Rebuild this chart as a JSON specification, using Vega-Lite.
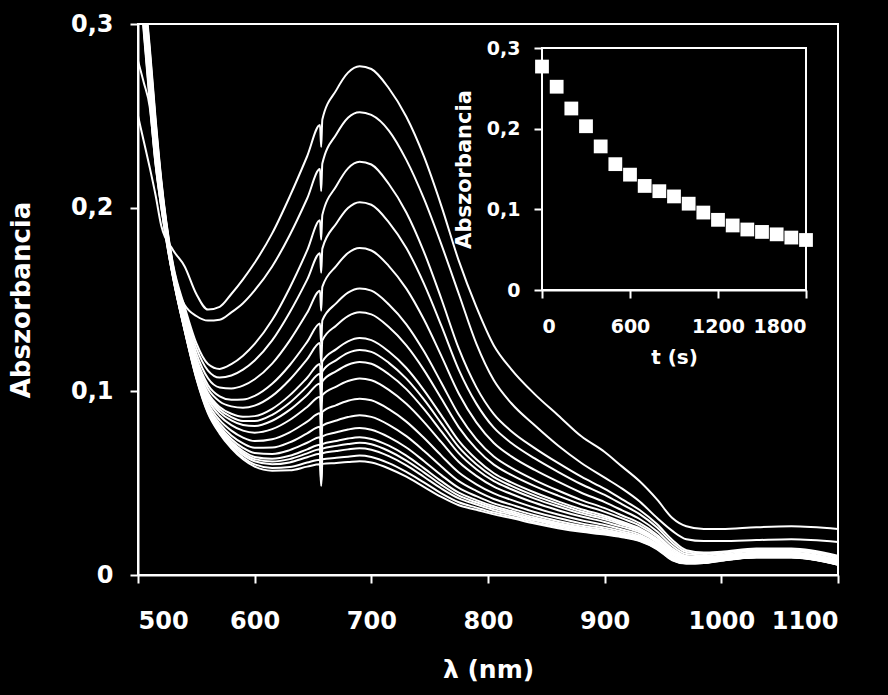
{
"$schema":"https://vega.github.io/schema/vega-lite/v6.json",
"width":700,"height":551,
"autosize":{"type":"none"},
"padding":{"left":138,"top":24,"right":50,"bottom":120},
"background":"black",
"config":{"view":{"stroke":"white","strokeWidth":2},"font":"DejaVu Sans",
"axis":{"grid":false,"domainColor":"white","domainWidth":2,"tickColor":"white","tickWidth":2,"tickSize":8,"labelColor":"white","titleColor":"white","labelFont":"DejaVu Sans","titleFont":"DejaVu Sans","labelFontWeight":"bold","titleFontWeight":"bold"}},
"datasets":{
"kinetics":[{"t":0,"a":0.277},{"t":100,"a":0.252},{"t":200,"a":0.225},{"t":300,"a":0.203},{"t":400,"a":0.178},{"t":500,"a":0.156},{"t":600,"a":0.143},{"t":700,"a":0.129},{"t":800,"a":0.1225},{"t":900,"a":0.116},{"t":1000,"a":0.107},{"t":1100,"a":0.096},{"t":1200,"a":0.087},{"t":1300,"a":0.08},{"t":1400,"a":0.075},{"t":1500,"a":0.072},{"t":1600,"a":0.069},{"t":1700,"a":0.065},{"t":1800,"a":0.062}],
"spectra":[
{"c":0,"x":500,"y":0.25},{"c":0,"x":505,"y":0.236},{"c":0,"x":510,"y":0.222},{"c":0,"x":515,"y":0.207},{"c":0,"x":520,"y":0.19},{"c":0,"x":530,"y":0.177},{"c":0,"x":540,"y":0.168},{"c":0,"x":550,"y":0.153},{"c":0,"x":560,"y":0.1445},{"c":0,"x":570,"y":0.146},{"c":0,"x":580,"y":0.153},{"c":0,"x":590,"y":0.161},{"c":0,"x":600,"y":0.17},{"c":0,"x":615,"y":0.186},{"c":0,"x":630,"y":0.206},{"c":0,"x":645,"y":0.228},{"c":0,"x":656,"y":0.245},{"c":0,"x":657,"y":0.233},{"c":0,"x":658,"y":0.248},{"c":0,"x":670,"y":0.264},{"c":0,"x":680,"y":0.2735},{"c":0,"x":690,"y":0.277},{"c":0,"x":700,"y":0.2755},{"c":0,"x":715,"y":0.265},{"c":0,"x":730,"y":0.2495},{"c":0,"x":745,"y":0.228},{"c":0,"x":760,"y":0.201},{"c":0,"x":775,"y":0.171},{"c":0,"x":790,"y":0.146},{"c":0,"x":805,"y":0.125},{"c":0,"x":820,"y":0.112},{"c":0,"x":840,"y":0.0985},{"c":0,"x":860,"y":0.087},{"c":0,"x":880,"y":0.0755},{"c":0,"x":900,"y":0.067},{"c":0,"x":915,"y":0.059},{"c":0,"x":930,"y":0.051},{"c":0,"x":945,"y":0.041},{"c":0,"x":958,"y":0.031},{"c":0,"x":970,"y":0.0265},{"c":0,"x":985,"y":0.025},{"c":0,"x":1000,"y":0.025},{"c":0,"x":1030,"y":0.026},{"c":0,"x":1060,"y":0.0265},{"c":0,"x":1100,"y":0.025},
{"c":1,"x":500,"y":0.28},{"c":1,"x":505,"y":0.268},{"c":1,"x":510,"y":0.255},{"c":1,"x":515,"y":0.224},{"c":1,"x":520,"y":0.2},{"c":1,"x":530,"y":0.163},{"c":1,"x":540,"y":0.147},{"c":1,"x":550,"y":0.141},{"c":1,"x":560,"y":0.1385},{"c":1,"x":570,"y":0.139},{"c":1,"x":580,"y":0.143},{"c":1,"x":590,"y":0.148},{"c":1,"x":600,"y":0.155},{"c":1,"x":615,"y":0.168},{"c":1,"x":630,"y":0.185},{"c":1,"x":645,"y":0.205},{"c":1,"x":656,"y":0.221},{"c":1,"x":657,"y":0.209},{"c":1,"x":658,"y":0.224},{"c":1,"x":670,"y":0.24},{"c":1,"x":680,"y":0.249},{"c":1,"x":690,"y":0.252},{"c":1,"x":700,"y":0.2505},{"c":1,"x":715,"y":0.242},{"c":1,"x":730,"y":0.226},{"c":1,"x":745,"y":0.205},{"c":1,"x":760,"y":0.18},{"c":1,"x":775,"y":0.153},{"c":1,"x":790,"y":0.126},{"c":1,"x":805,"y":0.106},{"c":1,"x":820,"y":0.0935},{"c":1,"x":840,"y":0.0815},{"c":1,"x":860,"y":0.0705},{"c":1,"x":880,"y":0.061},{"c":1,"x":900,"y":0.053},{"c":1,"x":915,"y":0.047},{"c":1,"x":930,"y":0.04},{"c":1,"x":945,"y":0.031},{"c":1,"x":958,"y":0.024},{"c":1,"x":970,"y":0.0195},{"c":1,"x":985,"y":0.0185},{"c":1,"x":1000,"y":0.0185},{"c":1,"x":1030,"y":0.019},{"c":1,"x":1060,"y":0.0195},{"c":1,"x":1100,"y":0.018},
{"c":2,"x":500,"y":0.34},{"c":2,"x":505,"y":0.32},{"c":2,"x":510,"y":0.288},{"c":2,"x":515,"y":0.249},{"c":2,"x":520,"y":0.215},{"c":2,"x":530,"y":0.1693},{"c":2,"x":540,"y":0.146},{"c":2,"x":550,"y":0.1262},{"c":2,"x":560,"y":0.1149},{"c":2,"x":570,"y":0.1122},{"c":2,"x":580,"y":0.1148},{"c":2,"x":590,"y":0.1194},{"c":2,"x":600,"y":0.1258},{"c":2,"x":615,"y":0.1388},{"c":2,"x":630,"y":0.1563},{"c":2,"x":645,"y":0.1767},{"c":2,"x":656,"y":0.1931},{"c":2,"x":657,"y":0.1826},{"c":2,"x":658,"y":0.196},{"c":2,"x":670,"y":0.2118},{"c":2,"x":680,"y":0.2214},{"c":2,"x":690,"y":0.225},{"c":2,"x":700,"y":0.2235},{"c":2,"x":715,"y":0.2129},{"c":2,"x":730,"y":0.1974},{"c":2,"x":745,"y":0.1761},{"c":2,"x":760,"y":0.1504},{"c":2,"x":775,"y":0.1232},{"c":2,"x":790,"y":0.1023},{"c":2,"x":805,"y":0.0876},{"c":2,"x":820,"y":0.0783},{"c":2,"x":840,"y":0.0691},{"c":2,"x":860,"y":0.061},{"c":2,"x":880,"y":0.0535},{"c":2,"x":900,"y":0.0469},{"c":2,"x":915,"y":0.0412},{"c":2,"x":930,"y":0.0354},{"c":2,"x":945,"y":0.0276},{"c":2,"x":958,"y":0.0191},{"c":2,"x":970,"y":0.0135},{"c":2,"x":985,"y":0.0122},{"c":2,"x":1000,"y":0.0127},{"c":2,"x":1030,"y":0.0144},{"c":2,"x":1060,"y":0.0144},{"c":2,"x":1100,"y":0.0104},
{"c":3,"x":500,"y":0.34},{"c":3,"x":505,"y":0.3184},{"c":3,"x":510,"y":0.2861},{"c":3,"x":515,"y":0.2474},{"c":3,"x":520,"y":0.2141},{"c":3,"x":530,"y":0.1686},{"c":3,"x":540,"y":0.1443},{"c":3,"x":550,"y":0.1236},{"c":3,"x":560,"y":0.1113},{"c":3,"x":570,"y":0.1075},{"c":3,"x":580,"y":0.1086},{"c":3,"x":590,"y":0.1118},{"c":3,"x":600,"y":0.1168},{"c":3,"x":615,"y":0.1277},{"c":3,"x":630,"y":0.1429},{"c":3,"x":645,"y":0.1608},{"c":3,"x":656,"y":0.1752},{"c":3,"x":657,"y":0.1645},{"c":3,"x":658,"y":0.1777},{"c":3,"x":670,"y":0.1914},{"c":3,"x":680,"y":0.1998},{"c":3,"x":690,"y":0.203},{"c":3,"x":700,"y":0.2016},{"c":3,"x":715,"y":0.192},{"c":3,"x":730,"y":0.178},{"c":3,"x":745,"y":0.1588},{"c":3,"x":760,"y":0.1358},{"c":3,"x":775,"y":0.1117},{"c":3,"x":790,"y":0.0933},{"c":3,"x":805,"y":0.0802},{"c":3,"x":820,"y":0.0719},{"c":3,"x":840,"y":0.0635},{"c":3,"x":860,"y":0.0562},{"c":3,"x":880,"y":0.0494},{"c":3,"x":900,"y":0.0436},{"c":3,"x":915,"y":0.0384},{"c":3,"x":930,"y":0.0331},{"c":3,"x":945,"y":0.0258},{"c":3,"x":958,"y":0.0176},{"c":3,"x":970,"y":0.0125},{"c":3,"x":985,"y":0.0114},{"c":3,"x":1000,"y":0.012},{"c":3,"x":1030,"y":0.0137},{"c":3,"x":1060,"y":0.0137},{"c":3,"x":1100,"y":0.0097},
{"c":4,"x":500,"y":0.34},{"c":4,"x":505,"y":0.3169},{"c":4,"x":510,"y":0.2843},{"c":4,"x":515,"y":0.2459},{"c":4,"x":520,"y":0.2131},{"c":4,"x":530,"y":0.1678},{"c":4,"x":540,"y":0.1423},{"c":4,"x":550,"y":0.1207},{"c":4,"x":560,"y":0.1071},{"c":4,"x":570,"y":0.1021},{"c":4,"x":580,"y":0.1016},{"c":4,"x":590,"y":0.1031},{"c":4,"x":600,"y":0.1066},{"c":4,"x":615,"y":0.1151},{"c":4,"x":630,"y":0.1276},{"c":4,"x":645,"y":0.1428},{"c":4,"x":656,"y":0.1548},{"c":4,"x":657,"y":0.1439},{"c":4,"x":658,"y":0.1569},{"c":4,"x":670,"y":0.1683},{"c":4,"x":680,"y":0.1753},{"c":4,"x":690,"y":0.178},{"c":4,"x":700,"y":0.1767},{"c":4,"x":715,"y":0.1682},{"c":4,"x":730,"y":0.1559},{"c":4,"x":745,"y":0.1392},{"c":4,"x":760,"y":0.1193},{"c":4,"x":775,"y":0.0987},{"c":4,"x":790,"y":0.0831},{"c":4,"x":805,"y":0.0719},{"c":4,"x":820,"y":0.0646},{"c":4,"x":840,"y":0.0572},{"c":4,"x":860,"y":0.0508},{"c":4,"x":880,"y":0.0448},{"c":4,"x":900,"y":0.0397},{"c":4,"x":915,"y":0.0352},{"c":4,"x":930,"y":0.0305},{"c":4,"x":945,"y":0.0237},{"c":4,"x":958,"y":0.0159},{"c":4,"x":970,"y":0.0114},{"c":4,"x":985,"y":0.0106},{"c":4,"x":1000,"y":0.0113},{"c":4,"x":1030,"y":0.013},{"c":4,"x":1060,"y":0.013},{"c":4,"x":1100,"y":0.009},
{"c":5,"x":500,"y":0.34},{"c":5,"x":505,"y":0.3153},{"c":5,"x":510,"y":0.2824},{"c":5,"x":515,"y":0.2443},{"c":5,"x":520,"y":0.2122},{"c":5,"x":530,"y":0.1672},{"c":5,"x":540,"y":0.1405},{"c":5,"x":550,"y":0.1181},{"c":5,"x":560,"y":0.1035},{"c":5,"x":570,"y":0.0973},{"c":5,"x":580,"y":0.0954},{"c":5,"x":590,"y":0.0955},{"c":5,"x":600,"y":0.0975},{"c":5,"x":615,"y":0.1041},{"c":5,"x":630,"y":0.1142},{"c":5,"x":645,"y":0.1269},{"c":5,"x":656,"y":0.1369},{"c":5,"x":657,"y":0.1258},{"c":5,"x":658,"y":0.1386},{"c":5,"x":670,"y":0.148},{"c":5,"x":680,"y":0.1537},{"c":5,"x":690,"y":0.156},{"c":5,"x":700,"y":0.1548},{"c":5,"x":715,"y":0.1473},{"c":5,"x":730,"y":0.1365},{"c":5,"x":745,"y":0.1219},{"c":5,"x":760,"y":0.1047},{"c":5,"x":775,"y":0.0872},{"c":5,"x":790,"y":0.074},{"c":5,"x":805,"y":0.0645},{"c":5,"x":820,"y":0.0583},{"c":5,"x":840,"y":0.0517},{"c":5,"x":860,"y":0.046},{"c":5,"x":880,"y":0.0408},{"c":5,"x":900,"y":0.0364},{"c":5,"x":915,"y":0.0324},{"c":5,"x":930,"y":0.0282},{"c":5,"x":945,"y":0.0218},{"c":5,"x":958,"y":0.0144},{"c":5,"x":970,"y":0.0104},{"c":5,"x":985,"y":0.0098},{"c":5,"x":1000,"y":0.0106},{"c":5,"x":1030,"y":0.0123},{"c":5,"x":1060,"y":0.0123},{"c":5,"x":1100,"y":0.0083},
{"c":6,"x":500,"y":0.34},{"c":6,"x":505,"y":0.3138},{"c":6,"x":510,"y":0.2805},{"c":6,"x":515,"y":0.2428},{"c":6,"x":520,"y":0.2113},{"c":6,"x":530,"y":0.1666},{"c":6,"x":540,"y":0.1395},{"c":6,"x":550,"y":0.1166},{"c":6,"x":560,"y":0.1014},{"c":6,"x":570,"y":0.0945},{"c":6,"x":580,"y":0.0918},{"c":6,"x":590,"y":0.091},{"c":6,"x":600,"y":0.0922},{"c":6,"x":615,"y":0.0975},{"c":6,"x":630,"y":0.1063},{"c":6,"x":645,"y":0.1175},{"c":6,"x":656,"y":0.1263},{"c":6,"x":657,"y":0.1151},{"c":6,"x":658,"y":0.1278},{"c":6,"x":670,"y":0.1359},{"c":6,"x":680,"y":0.141},{"c":6,"x":690,"y":0.143},{"c":6,"x":700,"y":0.1419},{"c":6,"x":715,"y":0.135},{"c":6,"x":730,"y":0.125},{"c":6,"x":745,"y":0.1117},{"c":6,"x":760,"y":0.0961},{"c":6,"x":775,"y":0.0804},{"c":6,"x":790,"y":0.0687},{"c":6,"x":805,"y":0.0601},{"c":6,"x":820,"y":0.0545},{"c":6,"x":840,"y":0.0484},{"c":6,"x":860,"y":0.0432},{"c":6,"x":880,"y":0.0384},{"c":6,"x":900,"y":0.0344},{"c":6,"x":915,"y":0.0308},{"c":6,"x":930,"y":0.0269},{"c":6,"x":945,"y":0.0208},{"c":6,"x":958,"y":0.0135},{"c":6,"x":970,"y":0.0098},{"c":6,"x":985,"y":0.0093},{"c":6,"x":1000,"y":0.0102},{"c":6,"x":1030,"y":0.0119},{"c":6,"x":1060,"y":0.0119},{"c":6,"x":1100,"y":0.0079},
{"c":7,"x":500,"y":0.34},{"c":7,"x":505,"y":0.3122},{"c":7,"x":510,"y":0.2786},{"c":7,"x":515,"y":0.2412},{"c":7,"x":520,"y":0.2103},{"c":7,"x":530,"y":0.1661},{"c":7,"x":540,"y":0.1384},{"c":7,"x":550,"y":0.1149},{"c":7,"x":560,"y":0.0991},{"c":7,"x":570,"y":0.0915},{"c":7,"x":580,"y":0.0878},{"c":7,"x":590,"y":0.0862},{"c":7,"x":600,"y":0.0865},{"c":7,"x":615,"y":0.0905},{"c":7,"x":630,"y":0.0978},{"c":7,"x":645,"y":0.1074},{"c":7,"x":656,"y":0.1149},{"c":7,"x":657,"y":0.1036},{"c":7,"x":658,"y":0.1162},{"c":7,"x":670,"y":0.123},{"c":7,"x":680,"y":0.1272},{"c":7,"x":690,"y":0.129},{"c":7,"x":700,"y":0.1279},{"c":7,"x":715,"y":0.1217},{"c":7,"x":730,"y":0.1127},{"c":7,"x":745,"y":0.1007},{"c":7,"x":760,"y":0.0869},{"c":7,"x":775,"y":0.073},{"c":7,"x":790,"y":0.063},{"c":7,"x":805,"y":0.0554},{"c":7,"x":820,"y":0.0504},{"c":7,"x":840,"y":0.0449},{"c":7,"x":860,"y":0.0401},{"c":7,"x":880,"y":0.0358},{"c":7,"x":900,"y":0.0323},{"c":7,"x":915,"y":0.029},{"c":7,"x":930,"y":0.0254},{"c":7,"x":945,"y":0.0196},{"c":7,"x":958,"y":0.0126},{"c":7,"x":970,"y":0.0092},{"c":7,"x":985,"y":0.0088},{"c":7,"x":1000,"y":0.0098},{"c":7,"x":1030,"y":0.0115},{"c":7,"x":1060,"y":0.0115},{"c":7,"x":1100,"y":0.0075},
{"c":8,"x":500,"y":0.34},{"c":8,"x":505,"y":0.3106},{"c":8,"x":510,"y":0.2768},{"c":8,"x":515,"y":0.2396},{"c":8,"x":520,"y":0.2094},{"c":8,"x":530,"y":0.1657},{"c":8,"x":540,"y":0.1378},{"c":8,"x":550,"y":0.1141},{"c":8,"x":560,"y":0.098},{"c":8,"x":570,"y":0.0901},{"c":8,"x":580,"y":0.086},{"c":8,"x":590,"y":0.0839},{"c":8,"x":600,"y":0.0838},{"c":8,"x":615,"y":0.0872},{"c":8,"x":630,"y":0.0938},{"c":8,"x":645,"y":0.1027},{"c":8,"x":656,"y":0.1096},{"c":8,"x":657,"y":0.0982},{"c":8,"x":658,"y":0.1108},{"c":8,"x":670,"y":0.117},{"c":8,"x":680,"y":0.1209},{"c":8,"x":690,"y":0.1225},{"c":8,"x":700,"y":0.1215},{"c":8,"x":715,"y":0.1155},{"c":8,"x":730,"y":0.1069},{"c":8,"x":745,"y":0.0956},{"c":8,"x":760,"y":0.0826},{"c":8,"x":775,"y":0.0696},{"c":8,"x":790,"y":0.0603},{"c":8,"x":805,"y":0.0533},{"c":8,"x":820,"y":0.0485},{"c":8,"x":840,"y":0.0432},{"c":8,"x":860,"y":0.0387},{"c":8,"x":880,"y":0.0346},{"c":8,"x":900,"y":0.0313},{"c":8,"x":915,"y":0.0282},{"c":8,"x":930,"y":0.0248},{"c":8,"x":945,"y":0.019},{"c":8,"x":958,"y":0.0121},{"c":8,"x":970,"y":0.0089},{"c":8,"x":985,"y":0.0086},{"c":8,"x":1000,"y":0.0096},{"c":8,"x":1030,"y":0.0113},{"c":8,"x":1060,"y":0.0113},{"c":8,"x":1100,"y":0.0073},
{"c":9,"x":500,"y":0.34},{"c":9,"x":505,"y":0.3091},{"c":9,"x":510,"y":0.2749},{"c":9,"x":515,"y":0.2381},{"c":9,"x":520,"y":0.2084},{"c":9,"x":530,"y":0.1654},{"c":9,"x":540,"y":0.1373},{"c":9,"x":550,"y":0.1134},{"c":9,"x":560,"y":0.0969},{"c":9,"x":570,"y":0.0887},{"c":9,"x":580,"y":0.0842},{"c":9,"x":590,"y":0.0817},{"c":9,"x":600,"y":0.0811},{"c":9,"x":615,"y":0.084},{"c":9,"x":630,"y":0.0899},{"c":9,"x":645,"y":0.098},{"c":9,"x":656,"y":0.1043},{"c":9,"x":657,"y":0.0929},{"c":9,"x":658,"y":0.1054},{"c":9,"x":670,"y":0.111},{"c":9,"x":680,"y":0.1145},{"c":9,"x":690,"y":0.116},{"c":9,"x":700,"y":0.115},{"c":9,"x":715,"y":0.1093},{"c":9,"x":730,"y":0.1012},{"c":9,"x":745,"y":0.0904},{"c":9,"x":760,"y":0.0782},{"c":9,"x":775,"y":0.0662},{"c":9,"x":790,"y":0.0576},{"c":9,"x":805,"y":0.0511},{"c":9,"x":820,"y":0.0467},{"c":9,"x":840,"y":0.0416},{"c":9,"x":860,"y":0.0373},{"c":9,"x":880,"y":0.0334},{"c":9,"x":900,"y":0.0303},{"c":9,"x":915,"y":0.0274},{"c":9,"x":930,"y":0.0241},{"c":9,"x":945,"y":0.0185},{"c":9,"x":958,"y":0.0117},{"c":9,"x":970,"y":0.0086},{"c":9,"x":985,"y":0.0084},{"c":9,"x":1000,"y":0.0094},{"c":9,"x":1030,"y":0.0111},{"c":9,"x":1060,"y":0.0111},{"c":9,"x":1100,"y":0.0071},
{"c":10,"x":500,"y":0.34},{"c":10,"x":505,"y":0.3075},{"c":10,"x":510,"y":0.273},{"c":10,"x":515,"y":0.2365},{"c":10,"x":520,"y":0.2075},{"c":10,"x":530,"y":0.1649},{"c":10,"x":540,"y":0.1366},{"c":10,"x":550,"y":0.1123},{"c":10,"x":560,"y":0.0954},{"c":10,"x":570,"y":0.0867},{"c":10,"x":580,"y":0.0816},{"c":10,"x":590,"y":0.0786},{"c":10,"x":600,"y":0.0775},{"c":10,"x":615,"y":0.0794},{"c":10,"x":630,"y":0.0844},{"c":10,"x":645,"y":0.0915},{"c":10,"x":656,"y":0.097},{"c":10,"x":657,"y":0.0855},{"c":10,"x":658,"y":0.0979},{"c":10,"x":670,"y":0.1026},{"c":10,"x":680,"y":0.1056},{"c":10,"x":690,"y":0.107},{"c":10,"x":700,"y":0.106},{"c":10,"x":715,"y":0.1008},{"c":10,"x":730,"y":0.0932},{"c":10,"x":745,"y":0.0834},{"c":10,"x":760,"y":0.0723},{"c":10,"x":775,"y":0.0615},{"c":10,"x":790,"y":0.054},{"c":10,"x":805,"y":0.0481},{"c":10,"x":820,"y":0.0441},{"c":10,"x":840,"y":0.0393},{"c":10,"x":860,"y":0.0353},{"c":10,"x":880,"y":0.0318},{"c":10,"x":900,"y":0.0289},{"c":10,"x":915,"y":0.0262},{"c":10,"x":930,"y":0.0232},{"c":10,"x":945,"y":0.0178},{"c":10,"x":958,"y":0.0111},{"c":10,"x":970,"y":0.0082},{"c":10,"x":985,"y":0.0081},{"c":10,"x":1000,"y":0.0092},{"c":10,"x":1030,"y":0.0109},{"c":10,"x":1060,"y":0.0109},{"c":10,"x":1100,"y":0.0069},
{"c":11,"x":500,"y":0.34},{"c":11,"x":505,"y":0.3059},{"c":11,"x":510,"y":0.2711},{"c":11,"x":515,"y":0.2349},{"c":11,"x":520,"y":0.2066},{"c":11,"x":530,"y":0.1645},{"c":11,"x":540,"y":0.1357},{"c":11,"x":550,"y":0.111},{"c":11,"x":560,"y":0.0936},{"c":11,"x":570,"y":0.0843},{"c":11,"x":580,"y":0.0786},{"c":11,"x":590,"y":0.0748},{"c":11,"x":600,"y":0.0729},{"c":11,"x":615,"y":0.0739},{"c":11,"x":630,"y":0.0777},{"c":11,"x":645,"y":0.0835},{"c":11,"x":656,"y":0.088},{"c":11,"x":657,"y":0.0764},{"c":11,"x":658,"y":0.0888},{"c":11,"x":670,"y":0.0925},{"c":11,"x":680,"y":0.0949},{"c":11,"x":690,"y":0.096},{"c":11,"x":700,"y":0.0951},{"c":11,"x":715,"y":0.0903},{"c":11,"x":730,"y":0.0835},{"c":11,"x":745,"y":0.0747},{"c":11,"x":760,"y":0.065},{"c":11,"x":775,"y":0.0558},{"c":11,"x":790,"y":0.0494},{"c":11,"x":805,"y":0.0444},{"c":11,"x":820,"y":0.0409},{"c":11,"x":840,"y":0.0366},{"c":11,"x":860,"y":0.0329},{"c":11,"x":880,"y":0.0298},{"c":11,"x":900,"y":0.0272},{"c":11,"x":915,"y":0.0248},{"c":11,"x":930,"y":0.022},{"c":11,"x":945,"y":0.0168},{"c":11,"x":958,"y":0.0103},{"c":11,"x":970,"y":0.0077},{"c":11,"x":985,"y":0.0077},{"c":11,"x":1000,"y":0.0088},{"c":11,"x":1030,"y":0.0105},{"c":11,"x":1060,"y":0.0105},{"c":11,"x":1100,"y":0.0065},
{"c":12,"x":500,"y":0.34},{"c":12,"x":505,"y":0.3044},{"c":12,"x":510,"y":0.2693},{"c":12,"x":515,"y":0.2334},{"c":12,"x":520,"y":0.2056},{"c":12,"x":530,"y":0.164},{"c":12,"x":540,"y":0.135},{"c":12,"x":550,"y":0.11},{"c":12,"x":560,"y":0.0921},{"c":12,"x":570,"y":0.0824},{"c":12,"x":580,"y":0.076},{"c":12,"x":590,"y":0.0717},{"c":12,"x":600,"y":0.0693},{"c":12,"x":615,"y":0.0694},{"c":12,"x":630,"y":0.0722},{"c":12,"x":645,"y":0.0771},{"c":12,"x":656,"y":0.0807},{"c":12,"x":657,"y":0.069},{"c":12,"x":658,"y":0.0813},{"c":12,"x":670,"y":0.0841},{"c":12,"x":680,"y":0.086},{"c":12,"x":690,"y":0.087},{"c":12,"x":700,"y":0.0861},{"c":12,"x":715,"y":0.0818},{"c":12,"x":730,"y":0.0756},{"c":12,"x":745,"y":0.0677},{"c":12,"x":760,"y":0.0591},{"c":12,"x":775,"y":0.0511},{"c":12,"x":790,"y":0.0458},{"c":12,"x":805,"y":0.0414},{"c":12,"x":820,"y":0.0383},{"c":12,"x":840,"y":0.0343},{"c":12,"x":860,"y":0.031},{"c":12,"x":880,"y":0.0281},{"c":12,"x":900,"y":0.0258},{"c":12,"x":915,"y":0.0237},{"c":12,"x":930,"y":0.0211},{"c":12,"x":945,"y":0.0161},{"c":12,"x":958,"y":0.0097},{"c":12,"x":970,"y":0.0073},{"c":12,"x":985,"y":0.0074},{"c":12,"x":1000,"y":0.0086},{"c":12,"x":1030,"y":0.0103},{"c":12,"x":1060,"y":0.0103},{"c":12,"x":1100,"y":0.0063},
{"c":13,"x":500,"y":0.34},{"c":13,"x":505,"y":0.3028},{"c":13,"x":510,"y":0.2674},{"c":13,"x":515,"y":0.2318},{"c":13,"x":520,"y":0.2047},{"c":13,"x":530,"y":0.1637},{"c":13,"x":540,"y":0.1344},{"c":13,"x":550,"y":0.1091},{"c":13,"x":560,"y":0.091},{"c":13,"x":570,"y":0.0809},{"c":13,"x":580,"y":0.0741},{"c":13,"x":590,"y":0.0692},{"c":13,"x":600,"y":0.0664},{"c":13,"x":615,"y":0.0659},{"c":13,"x":630,"y":0.068},{"c":13,"x":645,"y":0.072},{"c":13,"x":656,"y":0.075},{"c":13,"x":657,"y":0.0633},{"c":13,"x":658,"y":0.0755},{"c":13,"x":670,"y":0.0777},{"c":13,"x":680,"y":0.0792},{"c":13,"x":690,"y":0.08},{"c":13,"x":700,"y":0.0791},{"c":13,"x":715,"y":0.0751},{"c":13,"x":730,"y":0.0694},{"c":13,"x":745,"y":0.0621},{"c":13,"x":760,"y":0.0544},{"c":13,"x":775,"y":0.0474},{"c":13,"x":790,"y":0.0429},{"c":13,"x":805,"y":0.039},{"c":13,"x":820,"y":0.0362},{"c":13,"x":840,"y":0.0325},{"c":13,"x":860,"y":0.0294},{"c":13,"x":880,"y":0.0268},{"c":13,"x":900,"y":0.0248},{"c":13,"x":915,"y":0.0228},{"c":13,"x":930,"y":0.0204},{"c":13,"x":945,"y":0.0155},{"c":13,"x":958,"y":0.0092},{"c":13,"x":970,"y":0.007},{"c":13,"x":985,"y":0.0071},{"c":13,"x":1000,"y":0.0083},{"c":13,"x":1030,"y":0.01},{"c":13,"x":1060,"y":0.01},{"c":13,"x":1100,"y":0.006},
{"c":14,"x":500,"y":0.34},{"c":14,"x":505,"y":0.3013},{"c":14,"x":510,"y":0.2655},{"c":14,"x":515,"y":0.2303},{"c":14,"x":520,"y":0.2038},{"c":14,"x":530,"y":0.1633},{"c":14,"x":540,"y":0.134},{"c":14,"x":550,"y":0.1085},{"c":14,"x":560,"y":0.0901},{"c":14,"x":570,"y":0.0798},{"c":14,"x":580,"y":0.0727},{"c":14,"x":590,"y":0.0675},{"c":14,"x":600,"y":0.0643},{"c":14,"x":615,"y":0.0633},{"c":14,"x":630,"y":0.0649},{"c":14,"x":645,"y":0.0684},{"c":14,"x":656,"y":0.0709},{"c":14,"x":657,"y":0.0591},{"c":14,"x":658,"y":0.0713},{"c":14,"x":670,"y":0.073},{"c":14,"x":680,"y":0.0743},{"c":14,"x":690,"y":0.075},{"c":14,"x":700,"y":0.0741},{"c":14,"x":715,"y":0.0704},{"c":14,"x":730,"y":0.065},{"c":14,"x":745,"y":0.0582},{"c":14,"x":760,"y":0.0511},{"c":14,"x":775,"y":0.0448},{"c":14,"x":790,"y":0.0408},{"c":14,"x":805,"y":0.0374},{"c":14,"x":820,"y":0.0348},{"c":14,"x":840,"y":0.0313},{"c":14,"x":860,"y":0.0283},{"c":14,"x":880,"y":0.0259},{"c":14,"x":900,"y":0.024},{"c":14,"x":915,"y":0.0222},{"c":14,"x":930,"y":0.0198},{"c":14,"x":945,"y":0.0151},{"c":14,"x":958,"y":0.0089},{"c":14,"x":970,"y":0.0068},{"c":14,"x":985,"y":0.007},{"c":14,"x":1000,"y":0.0082},{"c":14,"x":1030,"y":0.0099},{"c":14,"x":1060,"y":0.0099},{"c":14,"x":1100,"y":0.0059},
{"c":15,"x":500,"y":0.34},{"c":15,"x":505,"y":0.2997},{"c":15,"x":510,"y":0.2636},{"c":15,"x":515,"y":0.2287},{"c":15,"x":520,"y":0.2028},{"c":15,"x":530,"y":0.163},{"c":15,"x":540,"y":0.1338},{"c":15,"x":550,"y":0.1082},{"c":15,"x":560,"y":0.0897},{"c":15,"x":570,"y":0.0792},{"c":15,"x":580,"y":0.0718},{"c":15,"x":590,"y":0.0665},{"c":15,"x":600,"y":0.0631},{"c":15,"x":615,"y":0.0618},{"c":15,"x":630,"y":0.0631},{"c":15,"x":645,"y":0.0662},{"c":15,"x":656,"y":0.0685},{"c":15,"x":657,"y":0.0567},{"c":15,"x":658,"y":0.0688},{"c":15,"x":670,"y":0.0703},{"c":15,"x":680,"y":0.0713},{"c":15,"x":690,"y":0.072},{"c":15,"x":700,"y":0.0712},{"c":15,"x":715,"y":0.0675},{"c":15,"x":730,"y":0.0623},{"c":15,"x":745,"y":0.0559},{"c":15,"x":760,"y":0.0491},{"c":15,"x":775,"y":0.0432},{"c":15,"x":790,"y":0.0396},{"c":15,"x":805,"y":0.0364},{"c":15,"x":820,"y":0.0339},{"c":15,"x":840,"y":0.0305},{"c":15,"x":860,"y":0.0277},{"c":15,"x":880,"y":0.0253},{"c":15,"x":900,"y":0.0235},{"c":15,"x":915,"y":0.0218},{"c":15,"x":930,"y":0.0195},{"c":15,"x":945,"y":0.0148},{"c":15,"x":958,"y":0.0087},{"c":15,"x":970,"y":0.0067},{"c":15,"x":985,"y":0.0069},{"c":15,"x":1000,"y":0.0081},{"c":15,"x":1030,"y":0.0098},{"c":15,"x":1060,"y":0.0098},{"c":15,"x":1100,"y":0.0058},
{"c":16,"x":500,"y":0.34},{"c":16,"x":505,"y":0.2981},{"c":16,"x":510,"y":0.2618},{"c":16,"x":515,"y":0.2271},{"c":16,"x":520,"y":0.2019},{"c":16,"x":530,"y":0.1626},{"c":16,"x":540,"y":0.1336},{"c":16,"x":550,"y":0.1078},{"c":16,"x":560,"y":0.0892},{"c":16,"x":570,"y":0.0785},{"c":16,"x":580,"y":0.071},{"c":16,"x":590,"y":0.0654},{"c":16,"x":600,"y":0.0619},{"c":16,"x":615,"y":0.0603},{"c":16,"x":630,"y":0.0613},{"c":16,"x":645,"y":0.0641},{"c":16,"x":656,"y":0.066},{"c":16,"x":657,"y":0.0542},{"c":16,"x":658,"y":0.0663},{"c":16,"x":670,"y":0.0675},{"c":16,"x":680,"y":0.0684},{"c":16,"x":690,"y":0.069},{"c":16,"x":700,"y":0.0682},{"c":16,"x":715,"y":0.0647},{"c":16,"x":730,"y":0.0597},{"c":16,"x":745,"y":0.0535},{"c":16,"x":760,"y":0.0471},{"c":16,"x":775,"y":0.0417},{"c":16,"x":790,"y":0.0384},{"c":16,"x":805,"y":0.0353},{"c":16,"x":820,"y":0.033},{"c":16,"x":840,"y":0.0298},{"c":16,"x":860,"y":0.027},{"c":16,"x":880,"y":0.0248},{"c":16,"x":900,"y":0.0231},{"c":16,"x":915,"y":0.0214},{"c":16,"x":930,"y":0.0192},{"c":16,"x":945,"y":0.0146},{"c":16,"x":958,"y":0.0085},{"c":16,"x":970,"y":0.0065},{"c":16,"x":985,"y":0.0067},{"c":16,"x":1000,"y":0.008},{"c":16,"x":1030,"y":0.0097},{"c":16,"x":1060,"y":0.0097},{"c":16,"x":1100,"y":0.0057},
{"c":17,"x":500,"y":0.34},{"c":17,"x":505,"y":0.2966},{"c":17,"x":510,"y":0.2599},{"c":17,"x":515,"y":0.2256},{"c":17,"x":520,"y":0.2009},{"c":17,"x":530,"y":0.1623},{"c":17,"x":540,"y":0.1332},{"c":17,"x":550,"y":0.1074},{"c":17,"x":560,"y":0.0885},{"c":17,"x":570,"y":0.0776},{"c":17,"x":580,"y":0.0698},{"c":17,"x":590,"y":0.064},{"c":17,"x":600,"y":0.0602},{"c":17,"x":615,"y":0.0583},{"c":17,"x":630,"y":0.0588},{"c":17,"x":645,"y":0.0612},{"c":17,"x":656,"y":0.0627},{"c":17,"x":657,"y":0.0509},{"c":17,"x":658,"y":0.063},{"c":17,"x":670,"y":0.0638},{"c":17,"x":680,"y":0.0644},{"c":17,"x":690,"y":0.065},{"c":17,"x":700,"y":0.0642},{"c":17,"x":715,"y":0.0609},{"c":17,"x":730,"y":0.0561},{"c":17,"x":745,"y":0.0504},{"c":17,"x":760,"y":0.0445},{"c":17,"x":775,"y":0.0396},{"c":17,"x":790,"y":0.0367},{"c":17,"x":805,"y":0.034},{"c":17,"x":820,"y":0.0319},{"c":17,"x":840,"y":0.0288},{"c":17,"x":860,"y":0.0262},{"c":17,"x":880,"y":0.0241},{"c":17,"x":900,"y":0.0225},{"c":17,"x":915,"y":0.0209},{"c":17,"x":930,"y":0.0188},{"c":17,"x":945,"y":0.0143},{"c":17,"x":958,"y":0.0082},{"c":17,"x":970,"y":0.0063},{"c":17,"x":985,"y":0.0066},{"c":17,"x":1000,"y":0.0079},{"c":17,"x":1030,"y":0.0096},{"c":17,"x":1060,"y":0.0096},{"c":17,"x":1100,"y":0.0056},
{"c":18,"x":500,"y":0.34},{"c":18,"x":505,"y":0.295},{"c":18,"x":510,"y":0.258},{"c":18,"x":515,"y":0.224},{"c":18,"x":520,"y":0.2},{"c":18,"x":530,"y":0.162},{"c":18,"x":540,"y":0.133},{"c":18,"x":550,"y":0.107},{"c":18,"x":560,"y":0.088},{"c":18,"x":570,"y":0.077},{"c":18,"x":580,"y":0.069},{"c":18,"x":590,"y":0.063},{"c":18,"x":600,"y":0.059},{"c":18,"x":615,"y":0.0568},{"c":18,"x":630,"y":0.057},{"c":18,"x":645,"y":0.059},{"c":18,"x":656,"y":0.0603},{"c":18,"x":657,"y":0.0484},{"c":18,"x":658,"y":0.0605},{"c":18,"x":670,"y":0.061},{"c":18,"x":680,"y":0.0615},{"c":18,"x":690,"y":0.062},{"c":18,"x":700,"y":0.0612},{"c":18,"x":715,"y":0.058},{"c":18,"x":730,"y":0.0535},{"c":18,"x":745,"y":0.048},{"c":18,"x":760,"y":0.0425},{"c":18,"x":775,"y":0.038},{"c":18,"x":790,"y":0.0355},{"c":18,"x":805,"y":0.033},{"c":18,"x":820,"y":0.031},{"c":18,"x":840,"y":0.028},{"c":18,"x":860,"y":0.0255},{"c":18,"x":880,"y":0.0235},{"c":18,"x":900,"y":0.022},{"c":18,"x":915,"y":0.0205},{"c":18,"x":930,"y":0.0185},{"c":18,"x":945,"y":0.014},{"c":18,"x":958,"y":0.008},{"c":18,"x":970,"y":0.0062},{"c":18,"x":985,"y":0.0065},{"c":18,"x":1000,"y":0.0078},{"c":18,"x":1030,"y":0.0095},{"c":18,"x":1060,"y":0.0095},{"c":18,"x":1100,"y":0.0055}
]},
"layer":[
{"data":{"name":"spectra"},
 "mark":{"type":"line","clip":true,"color":"white","strokeWidth":2,"interpolate":"monotone"},
 "encoding":{
  "x":{"field":"x","type":"quantitative","scale":{"domain":[500,1100],"nice":false},
       "axis":{"values":[500,600,700,800,900,1000,1100],"format":"d","title":"λ (nm)","labelFontSize":24,"titleFontSize":25,"labelPadding":26,"titlePadding":24}},
  "y":{"field":"y","type":"quantitative","scale":{"domain":[0,0.3],"nice":false},
       "axis":{"values":[0,0.1,0.2,0.3],"labelExpr":"datum.value == 0 ? '0' : replace(format(datum.value, '.1f'), '.', ',')","title":"Abszorbancia","labelFontSize":24,"titleFontSize":26,"labelPadding":17,"titlePadding":36}},
  "detail":{"field":"c","type":"nominal"}}},
{"data":{"name":"kinetics"},
 "layer":[
  {"mark":{"type":"rect","fill":"black","stroke":"white","strokeWidth":2},
   "encoding":{
    "x":{"datum":0,"type":"quantitative","scale":{"domain":[0,1800],"nice":false,"range":[404,668]},
         "axis":{"orient":"bottom","offset":-285,"values":[0,600,1200,1800],"format":"d","title":"t (s)","labelFontSize":19,"titleFontSize":20,"labelPadding":19,"titlePadding":11}},
    "x2":{"datum":1800},
    "y":{"datum":0,"type":"quantitative","scale":{"domain":[0,0.3],"nice":false,"range":[266,24]},
         "axis":{"orient":"left","offset":-404,"values":[0,0.1,0.2,0.3],"labelExpr":"datum.value == 0 ? '0' : replace(format(datum.value, '.1f'), '.', ',')","title":"Abszorbancia","labelFontSize":19,"titleFontSize":21,"labelPadding":14,"titlePadding":12}},
    "y2":{"datum":0.3}}},
  {"mark":{"type":"square","color":"white","opacity":1,"size":190,"filled":true},
   "encoding":{
    "x":{"field":"t","type":"quantitative"},
    "y":{"field":"a","type":"quantitative"}}}
 ]}
],
"resolve":{"scale":{"x":"independent","y":"independent"},"axis":{"x":"independent","y":"independent"}}
}
